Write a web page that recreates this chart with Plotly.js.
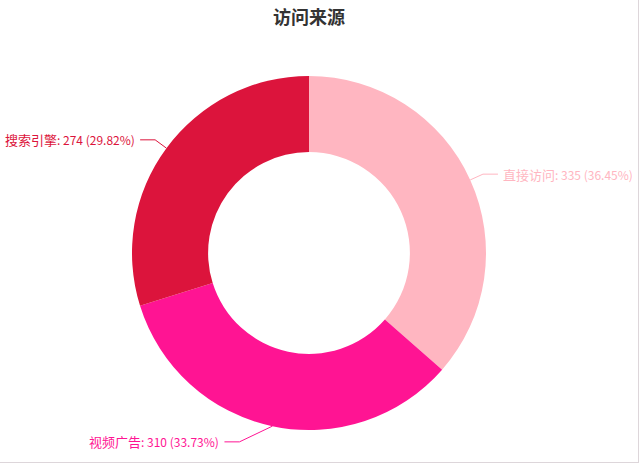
<!DOCTYPE html>
<html>
<head>
<meta charset="utf-8">
<script src="https://cdn.plot.ly/plotly-3.0.1.min.js"></script>
<style>
  html, body { margin: 0; padding: 0; background: #fff; }
  #wrap { width: 638px; height: 462px; border-right: 1px solid #ddd6da; border-bottom: 1px solid #ddd6da; }
  #chart { width: 638px; height: 462px; }
</style>
</head>
<body>
<div id="wrap"><div id="chart"></div></div>
<script>
// ---- data ----
var categories = ['直接访问', '视频广告', '搜索引擎'];
var values = [335, 310, 274];
var colors = ['#FFB6C1', '#FF1493', '#DC143C'];
var chartTitle = '访问来源';

// ---- layout constants (pixels) ----
var W = 638, H = 462;
var CX = 309, CY = 253, R = 177;
var L1 = 14, L2 = 15, GAP = 3;
var elbowShiftX = [0, -30, 0];
var elbowShiftY = [0, 2, 0];

function px(x) { return x / W; }
function py(y) { return 1 - y / H; }

var total = values.reduce(function (a, b) { return a + b; }, 0);
var shapes = [], annotations = [];
var cum = 0;
for (var i = 0; i < values.length; i++) {
  var mid = (cum + values[i] / 2) / total * 2 * Math.PI;
  cum += values[i];
  var sx = Math.sin(mid), sy = -Math.cos(mid);
  var x0 = CX + R * sx, y0 = CY + R * sy;
  var x1 = CX + (R + L1) * sx + elbowShiftX[i], y1 = CY + (R + L1) * sy + elbowShiftY[i];
  var dir = sx >= 0 ? 1 : -1;
  var x2 = x1 + dir * L2, y2 = y1;
  shapes.push({
    type: 'path', xref: 'paper', yref: 'paper',
    path: 'M' + px(x0) + ',' + py(y0) + ' L' + px(x1) + ',' + py(y1) + ' L' + px(x2) + ',' + py(y2),
    line: { color: colors[i], width: 1 }
  });
  var pct = (values[i] / total * 100).toFixed(2);
  annotations.push({
    xref: 'paper', yref: 'paper',
    x: px(x2 + dir * GAP), y: py(y2),
    xanchor: dir > 0 ? 'left' : 'right', yanchor: 'middle',
    text: '<span style="font-size:13px">' + categories[i] + '</span>: ' + values[i] + ' (' + pct + '%)',
    showarrow: false,
    font: { family: '"Noto Sans CJK SC", "Noto Sans", sans-serif', size: 12, color: colors[i] }
  });
}

var trace = {
  type: 'pie',
  labels: categories,
  values: values,
  marker: { colors: colors, line: { width: 0 } },
  hole: 0.57,
  sort: false,
  direction: 'clockwise',
  rotation: 0,
  textinfo: 'none',
  hoverinfo: 'label+value+percent',
  showlegend: false,
  domain: { x: [px(CX - R), px(CX + R)], y: [py(CY + R), py(CY - R)] }
};

var layout = {
  width: W, height: H,
  margin: { l: 0, r: 0, t: 0, b: 0 },
  paper_bgcolor: '#ffffff',
  title: {
    text: '<b>' + chartTitle + '</b>',
    x: 0.5 + (CX - W / 2) / W, xanchor: 'center',
    y: 1 - 18 / H, yanchor: 'middle', yref: 'container',
    font: { family: '"Noto Sans CJK SC", sans-serif', size: 18, color: '#333333' }
  },
  shapes: shapes,
  annotations: annotations
};

Plotly.newPlot('chart', [trace], layout, { displayModeBar: false, staticPlot: true });
</script>
</body>
</html>
